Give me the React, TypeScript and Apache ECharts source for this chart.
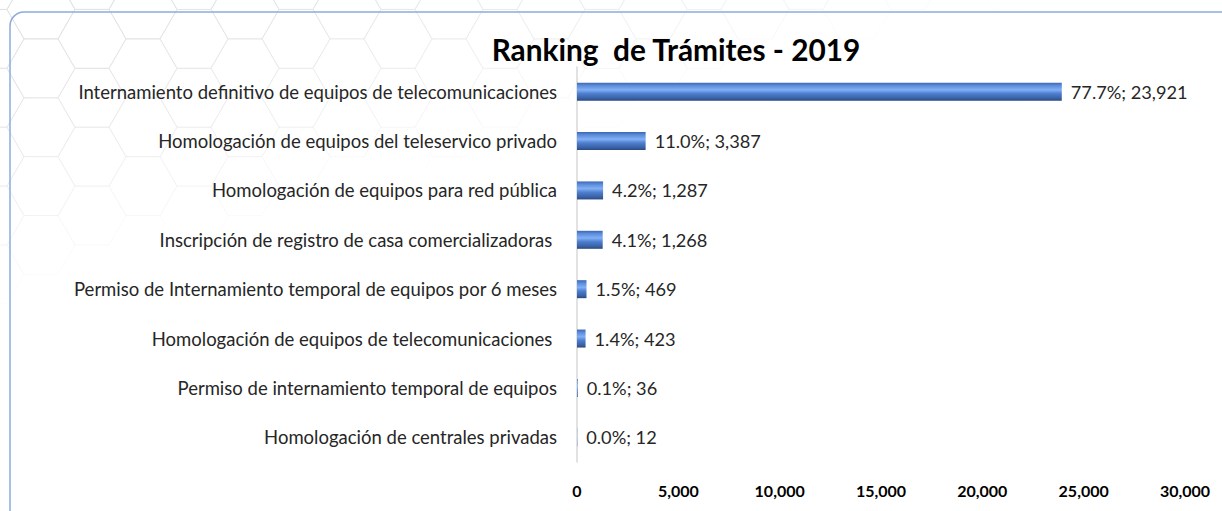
import React, { useEffect, useRef } from "react";
import * as echarts from "echarts";

const categories = [
  "Internamiento definitivo de equipos de telecomunicaciones",
  "Homologación de equipos del teleservico privado",
  "Homologación de equipos para red pública",
  "Inscripción de registro de casa comercializadoras ",
  "Permiso de Internamiento temporal de equipos por 6 meses",
  "Homologación de equipos de telecomunicaciones ",
  "Permiso de internamiento temporal de equipos",
  "Homologación de centrales privadas",
];
const values = [23921, 3387, 1287, 1268, 469, 423, 36, 12];
const percents = ["77.7%", "11.0%", "4.2%", "4.1%", "1.5%", "1.4%", "0.1%", "0.0%"];
const xTicks = { min: 0, max: 30000, interval: 5000 };
const title = "Ranking  de Trámites - 2019";

function hexagons(): any[] {
  const out: any[] = [];
  const w = 34;
  const h = (Math.sqrt(3) / 2) * w;
  for (let col = 0; col < 30; col++) {
    for (let row = 0; row < 8; row++) {
      const cx = col * w * 1.5 - 10;
      const cy = row * h * 2 + (col % 2 ? h : 0) - 20;
      const fade = Math.max(0, 1 - cx / 1000 - cy / 300);
      if (fade <= 0.05) continue;
      const pts: number[][] = [];
      for (let k = 0; k < 6; k++) {
        const a = (Math.PI / 3) * k;
        pts.push([cx + w * Math.cos(a), cy + w * Math.sin(a)]);
      }
      out.push({
        type: "polygon",
        silent: true,
        z: -10,
        shape: { points: pts },
        style: { fill: "none", stroke: "#e2e2e2", lineWidth: 1, opacity: fade },
      });
    }
  }
  return out;
}

export default function App() {
  const ref = useRef<HTMLDivElement>(null);
  useEffect(() => {
    if (!ref.current) return;
    const chart = echarts.init(ref.current, undefined, { renderer: "svg" });
    const font = "Lato, 'Open Sans', sans-serif";
    chart.setOption({
      animation: false,
      backgroundColor: "#ffffff",
      textStyle: { fontFamily: font },
      title: {
        text: title,
        left: 671,
        top: 29,
        textAlign: "center",
        textStyle: { fontFamily: font, fontSize: 29.8, fontWeight: "bold", color: "#000" },
      },
      graphic: [
        ...hexagons(),
        {
          type: "rect",
          silent: true,
          z: -5,
          shape: { x: 10, y: 12, width: 1240, height: 530, r: 14 },
          style: { fill: "none", stroke: "#8eaadb", lineWidth: 1.5 },
        },
      ],
      grid: { left: 577, right: 37, top: 67, bottom: 49, containLabel: false },
      xAxis: {
        type: "value",
        min: xTicks.min,
        max: xTicks.max,
        interval: xTicks.interval,
        axisLine: { show: false },
        axisTick: { show: false },
        splitLine: { show: false },
        axisLabel: {
          fontFamily: font,
          fontSize: 16,
          fontWeight: "bold",
          color: "#000",
          margin: 20,
          formatter: (v: number) => v.toLocaleString("en-US"),
        },
      },
      yAxis: {
        type: "category",
        inverse: true,
        data: categories,
        axisLine: { show: true, lineStyle: { color: "#d9d9d9", width: 1.5 } },
        axisTick: { show: false },
        axisLabel: { fontFamily: font, fontSize: 18.5, color: "#262626", margin: 20 },
      },
      series: [
        {
          type: "bar",
          data: values,
          barWidth: 18,
          itemStyle: {
            color: new echarts.graphic.LinearGradient(0, 0, 0, 1, [
              { offset: 0, color: "#3c66b4" },
              { offset: 0.15, color: "#5a8ad8" },
              { offset: 0.4, color: "#82b0f5" },
              { offset: 0.6, color: "#4f7fd0" },
              { offset: 0.85, color: "#3a63a8" },
              { offset: 1, color: "#2b4a80" },
            ]),
            borderWidth: 0,
          },
          label: {
            show: true,
            position: "right",
            distance: 9,
            fontFamily: font,
            fontSize: 18.2,
            color: "#262626",
            formatter: (p: any) =>
              percents[p.dataIndex] + "; " + (p.value as number).toLocaleString("en-US"),
          },
        },
      ],
    });
    return () => chart.dispose();
  }, []);
  return (
    <div
      ref={ref}
      style={{ position: "fixed", left: 0, top: 0, width: 1222, height: 511 }}
    />
  );
}
